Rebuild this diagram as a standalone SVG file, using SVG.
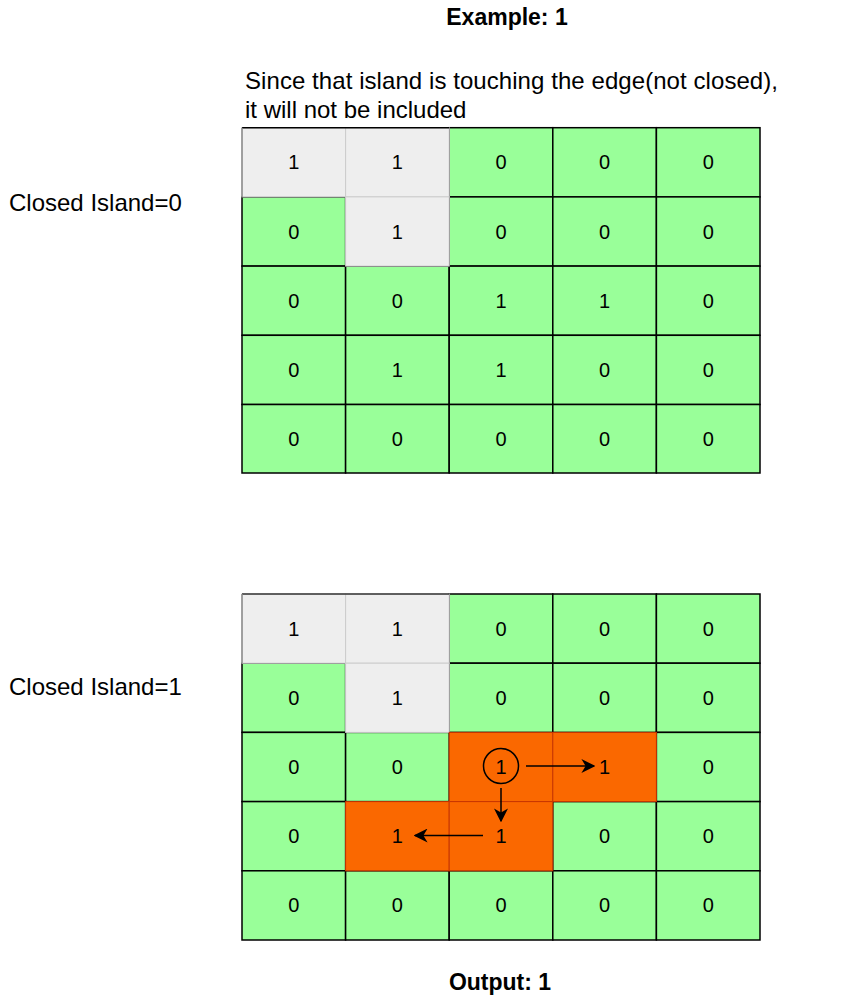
<svg xmlns="http://www.w3.org/2000/svg" width="846" height="996" viewBox="0 0 846 996">
<style>
.g{fill:#99FF99;stroke:#000;stroke-width:1.5}
.w{fill:#EEEEEE;stroke:#CCCCCC;stroke-width:1}
.o{fill:#FA6800;stroke:#C73500;stroke-width:1}
.t{font-family:"Liberation Sans",Arial,sans-serif;font-size:20px;fill:#000;text-anchor:middle;dominant-baseline:central}
.l{font-family:"Liberation Sans",Arial,sans-serif;font-size:24px;fill:#000}
.b{font-family:"Liberation Sans",Arial,sans-serif;font-size:23px;font-weight:bold;fill:#000;text-anchor:middle}
.a{stroke:#000;stroke-width:1.5;fill:none}
</style>
<defs>
<marker id="ah" viewBox="0 0 10 10" refX="9" refY="5" markerWidth="14" markerHeight="14" markerUnits="userSpaceOnUse" orient="auto"><path d="M0,0 L10,5 L0,10 L3,5 Z" fill="#000"/></marker>
</defs>
<rect width="846" height="996" fill="#fff"/>
<text class="b" x="507" y="25">Example: 1</text>
<text class="l" x="245" y="89" textLength="533">Since that island is touching the edge(not closed),</text>
<text class="l" x="245" y="118">it will not be included</text>
<text class="l" x="9" y="211">Closed Island=0</text>
<text class="l" x="9" y="695">Closed Island=1</text>
<text class="b" x="500" y="990">Output: 1</text>

<g id="grid1">
<rect class="g" x="449.2" y="127.7" width="103.6" height="69.2"/><text class="t" x="501" y="162.3">0</text>
<rect class="g" x="552.8" y="127.7" width="103.6" height="69.2"/><text class="t" x="604.6" y="162.3">0</text>
<rect class="g" x="656.4" y="127.7" width="103.6" height="69.2"/><text class="t" x="708.2" y="162.3">0</text>
<rect class="g" x="242" y="196.9" width="103.6" height="69.2"/><text class="t" x="293.8" y="231.5">0</text>
<rect class="g" x="449.2" y="196.9" width="103.6" height="69.2"/><text class="t" x="501" y="231.5">0</text>
<rect class="g" x="552.8" y="196.9" width="103.6" height="69.2"/><text class="t" x="604.6" y="231.5">0</text>
<rect class="g" x="656.4" y="196.9" width="103.6" height="69.2"/><text class="t" x="708.2" y="231.5">0</text>
<rect class="g" x="242" y="266.1" width="103.6" height="69.2"/><text class="t" x="293.8" y="300.7">0</text>
<rect class="g" x="345.6" y="266.1" width="103.6" height="69.2"/><text class="t" x="397.4" y="300.7">0</text>
<rect class="g" x="449.2" y="266.1" width="103.6" height="69.2"/><text class="t" x="501" y="300.7">1</text>
<rect class="g" x="552.8" y="266.1" width="103.6" height="69.2"/><text class="t" x="604.6" y="300.7">1</text>
<rect class="g" x="656.4" y="266.1" width="103.6" height="69.2"/><text class="t" x="708.2" y="300.7">0</text>
<rect class="g" x="242" y="335.3" width="103.6" height="69.2"/><text class="t" x="293.8" y="369.9">0</text>
<rect class="g" x="345.6" y="335.3" width="103.6" height="69.2"/><text class="t" x="397.4" y="369.9">1</text>
<rect class="g" x="449.2" y="335.3" width="103.6" height="69.2"/><text class="t" x="501" y="369.9">1</text>
<rect class="g" x="552.8" y="335.3" width="103.6" height="69.2"/><text class="t" x="604.6" y="369.9">0</text>
<rect class="g" x="656.4" y="335.3" width="103.6" height="69.2"/><text class="t" x="708.2" y="369.9">0</text>
<rect class="g" x="242" y="404.5" width="103.6" height="68.5"/><text class="t" x="293.8" y="438.8">0</text>
<rect class="g" x="345.6" y="404.5" width="103.6" height="68.5"/><text class="t" x="397.4" y="438.8">0</text>
<rect class="g" x="449.2" y="404.5" width="103.6" height="68.5"/><text class="t" x="501" y="438.8">0</text>
<rect class="g" x="552.8" y="404.5" width="103.6" height="68.5"/><text class="t" x="604.6" y="438.8">0</text>
<rect class="g" x="656.4" y="404.5" width="103.6" height="68.5"/><text class="t" x="708.2" y="438.8">0</text>
<rect class="w" x="242" y="127.7" width="103.6" height="69.2"/><text class="t" x="293.8" y="162.3">1</text>
<rect class="w" x="345.6" y="127.7" width="103.6" height="69.2"/><text class="t" x="397.4" y="162.3">1</text>
<rect class="w" x="345.6" y="196.9" width="103.6" height="69.2"/><text class="t" x="397.4" y="231.5">1</text>
<path d="M242,127.7 H449.2" stroke="#000" stroke-width="1.5" fill="none"/>
<path d="M242,127.7 V196.9" stroke="#888" stroke-width="1.5" fill="none"/>
</g>

<g id="grid2">
<rect class="g" x="449.2" y="594" width="103.6" height="69.2"/><text class="t" x="501" y="628.6">0</text>
<rect class="g" x="552.8" y="594" width="103.6" height="69.2"/><text class="t" x="604.6" y="628.6">0</text>
<rect class="g" x="656.4" y="594" width="103.6" height="69.2"/><text class="t" x="708.2" y="628.6">0</text>
<rect class="g" x="242" y="663.2" width="103.6" height="69.2"/><text class="t" x="293.8" y="697.8">0</text>
<rect class="g" x="449.2" y="663.2" width="103.6" height="69.2"/><text class="t" x="501" y="697.8">0</text>
<rect class="g" x="552.8" y="663.2" width="103.6" height="69.2"/><text class="t" x="604.6" y="697.8">0</text>
<rect class="g" x="656.4" y="663.2" width="103.6" height="69.2"/><text class="t" x="708.2" y="697.8">0</text>
<rect class="g" x="242" y="732.4" width="103.6" height="69.2"/><text class="t" x="293.8" y="767">0</text>
<rect class="g" x="345.6" y="732.4" width="103.6" height="69.2"/><text class="t" x="397.4" y="767">0</text>
<rect class="g" x="656.4" y="732.4" width="103.6" height="69.2"/><text class="t" x="708.2" y="767">0</text>
<rect class="g" x="242" y="801.6" width="103.6" height="69.2"/><text class="t" x="293.8" y="836.2">0</text>
<rect class="g" x="552.8" y="801.6" width="103.6" height="69.2"/><text class="t" x="604.6" y="836.2">0</text>
<rect class="g" x="656.4" y="801.6" width="103.6" height="69.2"/><text class="t" x="708.2" y="836.2">0</text>
<rect class="g" x="242" y="870.8" width="103.6" height="69.2"/><text class="t" x="293.8" y="905.4">0</text>
<rect class="g" x="345.6" y="870.8" width="103.6" height="69.2"/><text class="t" x="397.4" y="905.4">0</text>
<rect class="g" x="449.2" y="870.8" width="103.6" height="69.2"/><text class="t" x="501" y="905.4">0</text>
<rect class="g" x="552.8" y="870.8" width="103.6" height="69.2"/><text class="t" x="604.6" y="905.4">0</text>
<rect class="g" x="656.4" y="870.8" width="103.6" height="69.2"/><text class="t" x="708.2" y="905.4">0</text>
<rect class="w" x="242" y="594" width="103.6" height="69.2"/><text class="t" x="293.8" y="628.6">1</text>
<rect class="w" x="345.6" y="594" width="103.6" height="69.2"/><text class="t" x="397.4" y="628.6">1</text>
<rect class="w" x="345.6" y="663.2" width="103.6" height="69.2"/><text class="t" x="397.4" y="697.8">1</text>
<path d="M242,594 H449.2" stroke="#333" stroke-width="1.5" fill="none"/>
<path d="M242,594 V663.2" stroke="#888" stroke-width="1.5" fill="none"/>
<rect class="o" x="449.2" y="732.4" width="103.6" height="69.2"/>
<rect class="o" x="552.8" y="732.4" width="103.6" height="69.2"/>
<rect class="o" x="345.6" y="801.6" width="103.6" height="69.2"/>
<rect class="o" x="449.2" y="801.6" width="103.6" height="69.2"/>
<circle cx="501" cy="766" r="17.5" fill="none" stroke="#000" stroke-width="1.5"/>
<text class="t" x="501" y="767">1</text>
<text class="t" x="604.6" y="767">1</text>
<text class="t" x="501" y="836.2">1</text>
<text class="t" x="397.4" y="836.2">1</text>
</g>

<g id="connectors">
<line class="a" x1="526" y1="766" x2="594" y2="766" marker-end="url(#ah)"/>
<line class="a" x1="501" y1="788" x2="501" y2="821" marker-end="url(#ah)"/>
<line class="a" x1="483" y1="835.5" x2="415" y2="835.5" marker-end="url(#ah)"/>
</g>
</svg>
